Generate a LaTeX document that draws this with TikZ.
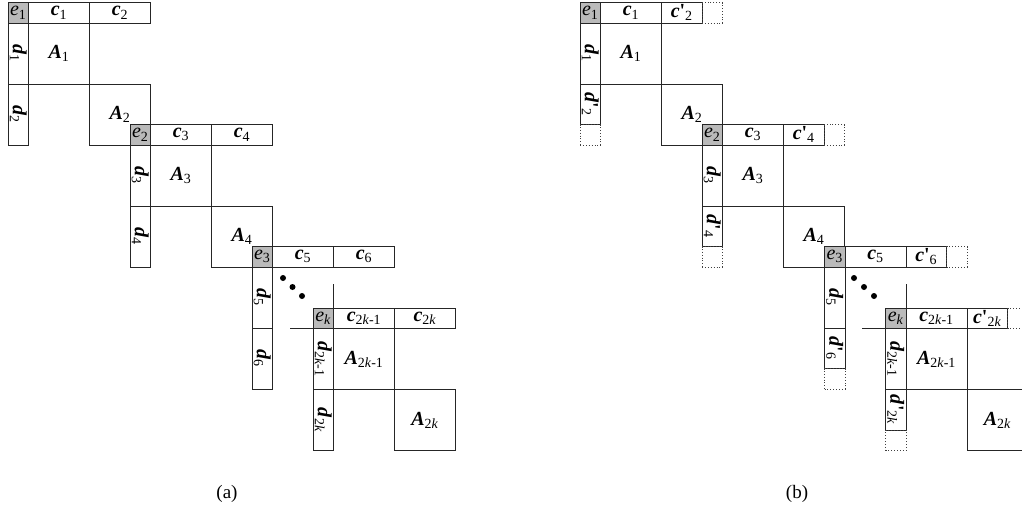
\documentclass[tikz,border=0pt]{standalone}
\usepackage{fontspec}
\setmainfont{Liberation Serif}
\newcommand\Le[1]{\textit{e}\textsubscript{#1}}
\newcommand\Lc[1]{\textbf{\textit{c}}\textsubscript{#1}}
\newcommand\Lcp[1]{\textbf{\textit{c}\textquotesingle}\textsubscript{#1}}
\newcommand\Ld[1]{\textbf{\textit{d}}\textsubscript{#1}}
\newcommand\Ldp[1]{\textbf{\textit{d}\textquotesingle}\textsubscript{#1}}
\newcommand\La[1]{\textbf{\textit{A}}\textsubscript{#1}}
\tikzset{
 every node/.style={font=\fontsize{20}{22}\selectfont, inner sep=0pt, outer sep=0pt},
 cellline/.style={draw=black!85, line width=0.9pt},
 ecell/.style={cellline, fill=black!27, minimum width=20.5pt, minimum height=20.5pt},
 ccell/.style={cellline, minimum height=20.5pt},
 dcell/.style={cellline, rotate=-90, minimum height=20.5pt},
 dotbox/.style={draw=black!75, dotted, line width=0.9pt, minimum width=20.5pt, minimum height=20.5pt},
 ablk/.style={cellline, minimum width=61pt, minimum height=61pt},
 dotmark/.style={circle, fill=black, minimum size=6pt},
 captxt/.style={font=\fontsize{19}{22}\selectfont}
}
% #1 name, #2 x, #3 y, #4 e, #5 c odd, #6 c even, #7 d odd, #8 d even, #9 variant a/b
\newcommand\Lev[9]{%
\begin{scope}[shift={(#2,#3)}]
\node[ecell] (#1e) at (10.25,10.25) {#4};
\node[ccell, minimum width=61pt] (#1c1) at (51,10.25) {#5};
\node[dcell, minimum width=61pt] (#1d1) at (10.25,51) {#7};
\if#9a
\node[ccell, minimum width=61pt] (#1c2) at (112,10.25) {#6};
\node[dcell, minimum width=61pt] (#1d2) at (10.25,112) {#8};
\else
\node[ccell, minimum width=40.5pt] (#1c2) at (101.75,10.25) {#6};
\node[dotbox] (#1cx) at (132.25,10.25) {};
\node[dcell, minimum width=40.5pt] (#1d2) at (10.25,101.75) {#8};
\node[dotbox] (#1dx) at (10.25,132.25) {};
\fi
\end{scope}}
% A blocks: #1 name, #2 x, #3 y, #4 odd label, #5 even label
\newcommand\Ablk[5]{%
\begin{scope}[shift={(#2,#3)}]
\node[ablk] (#1A1) at (51,51) {#4};
\node[ablk] (#1A2) at (112,112) {#5};
\end{scope}}
\begin{document}
\begin{tikzpicture}[x=1pt,y=-1pt]
\useasboundingbox (0,0) rectangle (1022,512);
% ---------- panel (a)
\Lev{a1}{8}{2.5}{\Le{1}}{\Lc{1}}{\Lc{2}}{\Ld{1}}{\Ld{2}}{a}
\Ablk{a1}{8}{2.5}{\La{1}}{\La{2}}
\Lev{a2}{130}{124.5}{\Le{2}}{\Lc{3}}{\Lc{4}}{\Ld{3}}{\Ld{4}}{a}
\Ablk{a2}{130}{124.5}{\La{3}}{\La{4}}
\Lev{a3}{252}{246.5}{\Le{3}}{\Lc{5}}{\Lc{6}}{\Ld{5}}{\Ld{6}}{a}
\Lev{ak}{313}{308}{\Le{\textit{k}}}{\Lc{2\textit{k}-1}}{\Lc{2\textit{k}}}{\Ld{2\textit{k}-1}}{\Ld{2\textit{k}}}{a}
\Ablk{ak}{313}{308}{\La{2\textit{k}-1}}{\La{2\textit{k}}}
\coordinate (av) at (333.5,284);
\coordinate (ah) at (290,328.5);
\draw[cellline] (av) -- (akc1.north west);
\draw[cellline] (ah) -- (ake.south west);
\node[dotmark] (ad1) at (283,278) {};
\node[dotmark] (ad2) at (292.5,287) {};
\node[dotmark] (ad3) at (302,296) {};
\node[captxt] (capa) at (227,494) {(a)};
% ---------- panel (b)
\Lev{b1}{580}{2.5}{\Le{1}}{\Lc{1}}{\Lcp{2}}{\Ld{1}}{\Ldp{2}}{b}
\Ablk{b1}{580}{2.5}{\La{1}}{\La{2}}
\Lev{b2}{702}{124.5}{\Le{2}}{\Lc{3}}{\Lcp{4}}{\Ld{3}}{\Ldp{4}}{b}
\Ablk{b2}{702}{124.5}{\La{3}}{\La{4}}
\Lev{b3}{824.5}{246.5}{\Le{3}}{\Lc{5}}{\Lcp{6}}{\Ld{5}}{\Ldp{6}}{b}
\Lev{bk}{885.5}{308}{\Le{\textit{k}}}{\Lc{2\textit{k}-1}}{\Lcp{2\textit{k}}}{\Ld{2\textit{k}-1}}{\Ldp{2\textit{k}}}{b}
\Ablk{bk}{885.5}{308}{\La{2\textit{k}-1}}{\La{2\textit{k}}}
\coordinate (bv) at (906,284);
\coordinate (bh) at (862,328.5);
\draw[cellline] (bv) -- (bkc1.north west);
\draw[cellline] (bh) -- (bke.south west);
\node[dotmark] (bd1) at (854,278) {};
\node[dotmark] (bd2) at (864,287) {};
\node[dotmark] (bd3) at (874,296) {};
\node[captxt] (capb) at (797,494) {(b)};
\end{tikzpicture}
\end{document}
